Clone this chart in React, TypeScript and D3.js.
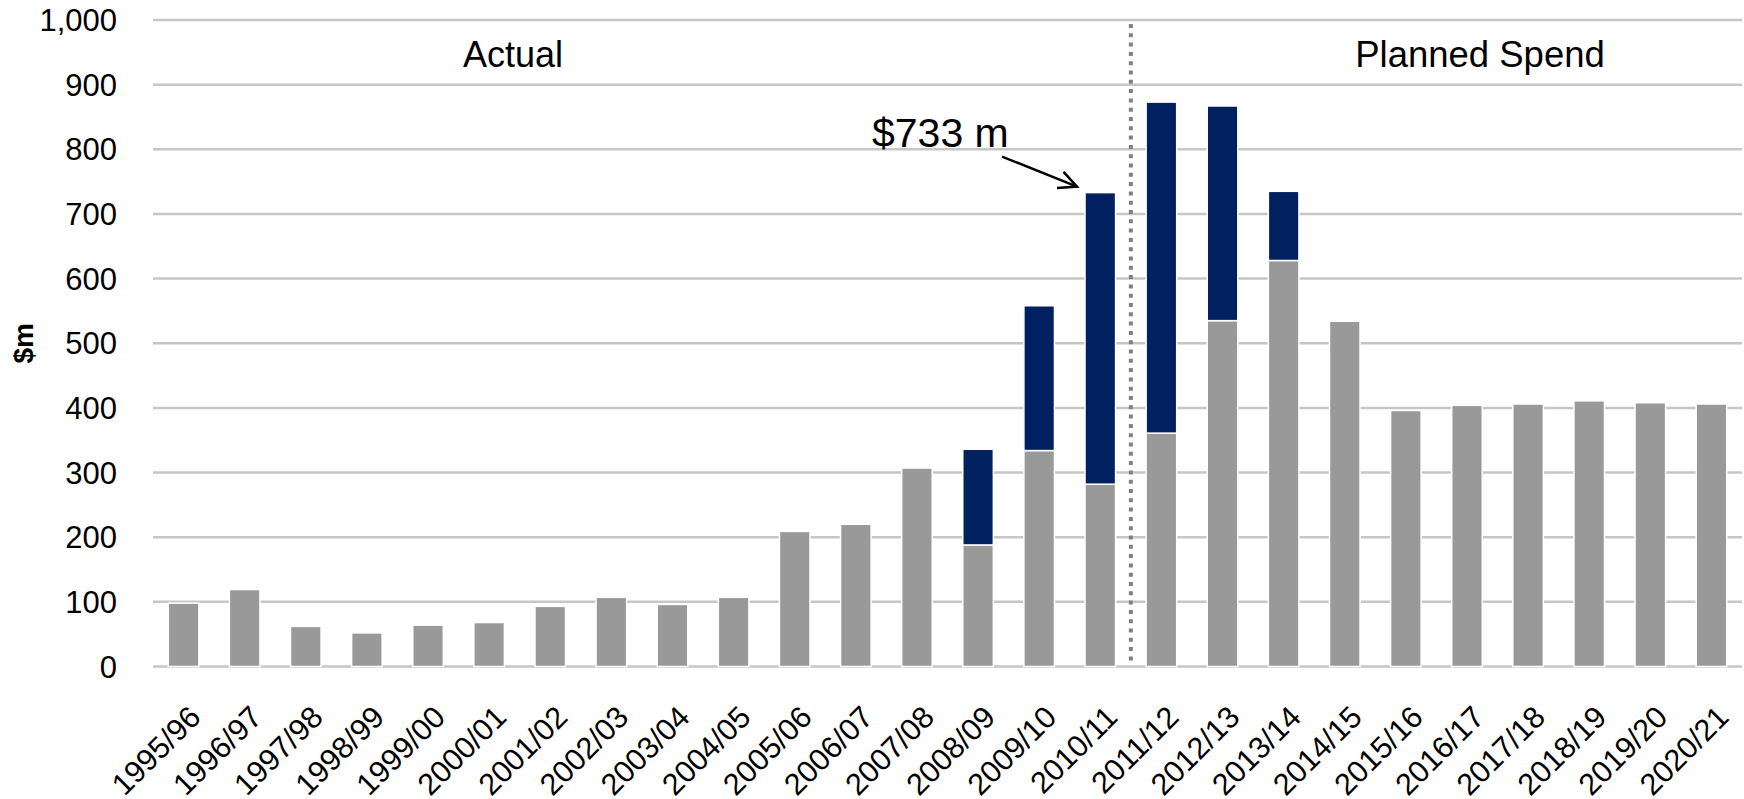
import React from "react";
import * as d3 from "d3";

const categories = [
  "1995/96", "1996/97", "1997/98", "1998/99", "1999/00", "2000/01", "2001/02",
  "2002/03", "2003/04", "2004/05", "2005/06", "2006/07", "2007/08", "2008/09",
  "2009/10", "2010/11", "2011/12", "2012/13", "2013/14", "2014/15", "2015/16",
  "2016/17", "2017/18", "2018/19", "2019/20", "2020/21",
];
const baseValues = [
  98, 119, 62, 52, 64, 68, 93, 107, 96, 107, 209, 220, 307, 188, 334, 282,
  361, 535, 628, 534, 396, 404, 406, 411, 408, 406,
];
const extraValues = [
  0, 0, 0, 0, 0, 0, 0, 0, 0, 0, 0, 0, 0, 148, 224, 451, 512, 332, 107, 0, 0,
  0, 0, 0, 0, 0,
];
const yTicks = [0, 100, 200, 300, 400, 500, 600, 700, 800, 900, 1000];
const annotationText = "$733 m";
const annotationIndex = 15;
const splitIndex = 16;

const W = 1744;
const H = 799;
const left = 153;
const right = 1742;
const top = 20;
const bottom = 666.5;
const font = "Arial, 'Liberation Sans', Helvetica, sans-serif";

export default function App() {
  const x = d3
    .scaleBand<string>()
    .domain(categories)
    .range([left, right])
    .paddingInner(0.5)
    .paddingOuter(0.25);
  const y = d3.scaleLinear().domain([0, 1000]).range([bottom, top]);
  const fmt = d3.format(",");
  const bw = x.bandwidth();

  const splitX =
    ((x(categories[splitIndex - 1]) as number) + bw + (x(categories[splitIndex]) as number)) / 2;

  const annCx = (x(categories[annotationIndex]) as number);
  const annTotal = baseValues[annotationIndex] + extraValues[annotationIndex];
  const tipX = annCx - 8;
  const tipY = y(annTotal) - 6;
  const startX = tipX - 75;
  const startY = tipY - 30;
  const ang = Math.atan2(tipY - startY, tipX - startX);
  const hl = 20;
  const ha = 0.45;
  const h1 = [tipX - hl * Math.cos(ang - ha), tipY - hl * Math.sin(ang - ha)];
  const h2 = [tipX - hl * Math.cos(ang + ha), tipY - hl * Math.sin(ang + ha)];

  return (
    <svg
      width={W}
      height={H}
      style={{ position: "absolute", left: 0, top: 0, background: "#fff" }}
      fontFamily={font}
    >
      {yTicks.map((t) => (
        <g key={t}>
          <line x1={left} x2={right} y1={y(t)} y2={y(t)} stroke="#c6c6c6" strokeWidth={2.5} />
          <text x={117} y={y(t)} dy="0.36em" textAnchor="end" fontSize={31} fill="#000">
            {fmt(t)}
          </text>
        </g>
      ))}

      {categories.map((c, i) => {
        const bx = x(c) as number;
        const b = baseValues[i];
        const e = extraValues[i];
        return (
          <g key={c}>
            <rect
              x={bx}
              y={y(b)}
              width={bw}
              height={y(0) - y(b)}
              fill="#999999"
              stroke="#ffffff"
              strokeWidth={1.5}
            />
            {e > 0 && (
              <rect
                x={bx}
                y={y(b + e)}
                width={bw}
                height={y(b) - y(b + e)}
                fill="#00205f"
                stroke="#ffffff"
                strokeWidth={1.5}
              />
            )}
          </g>
        );
      })}

      <line
        x1={splitX}
        x2={splitX}
        y1={top + 4}
        y2={bottom - 2}
        stroke="#808080"
        strokeWidth={4}
        strokeDasharray="4 5.3"
      />

      {categories.map((c) => {
        const cx = (x(c) as number) + bw / 2;
        return (
          <text
            key={c}
            transform={`translate(${cx + 19},${719}) rotate(-45)`}
            textAnchor="end"
            fontSize={30.5}
            fill="#000"
          >
            {c}
          </text>
        );
      })}

      <text
        transform={`translate(${33},${y(500)}) rotate(-90)`}
        textAnchor="middle"
        fontSize={28}
        fontWeight="bold"
        fill="#000"
      >
        $m
      </text>

      <text x={513} y={66.5} textAnchor="middle" fontSize={36} fill="#000">
        Actual
      </text>
      <text x={1480} y={66.5} textAnchor="middle" fontSize={36.5} fill="#000">
        Planned Spend
      </text>

      <text x={872} y={147} fontSize={41} fill="#000">
        {annotationText}
      </text>
      <line x1={startX} y1={startY} x2={tipX} y2={tipY} stroke="#000" strokeWidth={2.5} />
      <polyline
        points={`${h1[0]},${h1[1]} ${tipX},${tipY} ${h2[0]},${h2[1]}`}
        fill="none"
        stroke="#000"
        strokeWidth={2.5}
      />
    </svg>
  );
}
